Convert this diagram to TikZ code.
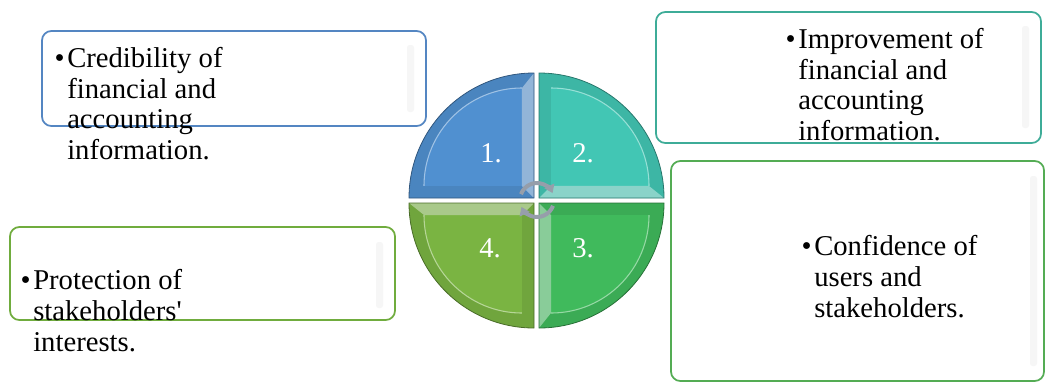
\documentclass[tikz,border=0pt]{standalone}
\usepackage{fontspec}
\setmainfont{Liberation Serif}
\usepackage{tikz}
\usetikzlibrary{arrows.meta,positioning,calc}
\usepackage{xcolor}
\definecolor{qblue}{RGB}{80,144,208}
\definecolor{qteal}{RGB}{66,198,180}
\definecolor{qgreen}{RGB}{64,186,92}
\definecolor{qolive}{RGB}{122,180,66}
\definecolor{bblue}{RGB}{84,134,194}
\definecolor{bteal}{RGB}{62,172,152}
\definecolor{bgreen}{RGB}{84,172,84}
\definecolor{bolive}{RGB}{112,172,62}
\definecolor{cyclegray}{RGB}{150,158,170}
\begin{document}
\begin{tikzpicture}[x=0.75pt,y=0.75pt,>=Latex,
  infobox/.style={draw=#1,line width=1.3pt,rounded corners=7pt,fill=white},
  infotext/.style={font=\fontsize{21.5}{22.9}\selectfont,align=left,anchor=base west,inner sep=0pt},
  quadnum/.style={font=\fontsize{21.5}{22.9}\selectfont,text=white,anchor=base}]
\useasboundingbox (0,0) rectangle (1046,-383);
\draw[infobox=bblue] (42,-31) rectangle (426,-126);
\draw[infobox=bteal] (656,-12) rectangle (1041,-143);
\draw[infobox=bgreen] (671,-161) rectangle (1044,-381);
\draw[infobox=bolive] (10,-227) rectangle (395,-320);
\fill[gray!7,rounded corners=2pt] (407,-45) rectangle (414,-112);
\fill[gray!7,rounded corners=2pt] (1022,-26) rectangle (1029,-128);
\fill[gray!7,rounded corners=2pt] (1030,-176) rectangle (1037,-366);
\fill[gray!7,rounded corners=2pt] (376,-242) rectangle (383,-308);
\node[infotext] (credtext) at (67,-159.5) {\llap{\textbullet\hspace{2pt}}Credibility of\\financial and\\accounting\\information.};
\node[infotext] (imprtext) at (798,-140.5) {\llap{\textbullet\hspace{2pt}}Improvement of\\financial and\\accounting\\information.};
\node[infotext] (conftext) at (814,-317) {\llap{\textbullet\hspace{2pt}}Confidence of\\users and\\stakeholders.};
\node[infotext] (prottext) at (33,-351) {\llap{\textbullet\hspace{2pt}}Protection of\\stakeholders{\addfontfeatures{Ligatures=TeXOff}'}\\interests.};
\foreach \cx/\cy/\a/\col in {534/-198/90/qblue,539/-198/0/qteal,539/-203/-90/qgreen,534/-203/180/qolive}{
  \coordinate (c) at (\cx,\cy);
  \coordinate (i) at ($(c)+(\a+45:17)$);
  \fill[\col!92!black] (c) -- ++(\a:125) arc[start angle=\a,end angle=\a+90,radius=125] -- cycle;
  \fill[\col] (i) -- ++(\a:98) arc[start angle=\a,end angle=\a+90,radius=98] -- cycle;
  \draw[\col!55!white,line width=0.8pt] ($(i)+(\a:98)$) arc[start angle=\a,end angle=\a+90,radius=98];
  \fill[white,opacity=0.4] (c) -- ($(c)+(\a:125)$) -- ($(i)+(\a:98)$) -- (i) -- cycle;
  \draw[\col!60!black,line width=0.6pt] (c) -- ++(\a:125) arc[start angle=\a,end angle=\a+90,radius=125] -- cycle;
}
\node[quadnum] (n1) at (491,-162) {1.};
\node[quadnum] (n2) at (583,-162) {2.};
\node[quadnum] (n3) at (583,-257) {3.};
\node[quadnum] (n4) at (490,-257) {4.};
\coordinate (cyc) at (537,-200);
\draw[cyclegray,line width=3pt,-{Triangle[length=6pt,width=8pt]}] ($(cyc)+(160:17)$) arc[start angle=160,end angle=24,radius=17];
\draw[cyclegray,line width=3pt,-{Triangle[length=6pt,width=8pt]}] ($(cyc)+(-20:17)$) arc[start angle=-20,end angle=-156,radius=17];
\end{tikzpicture}
\end{document}
